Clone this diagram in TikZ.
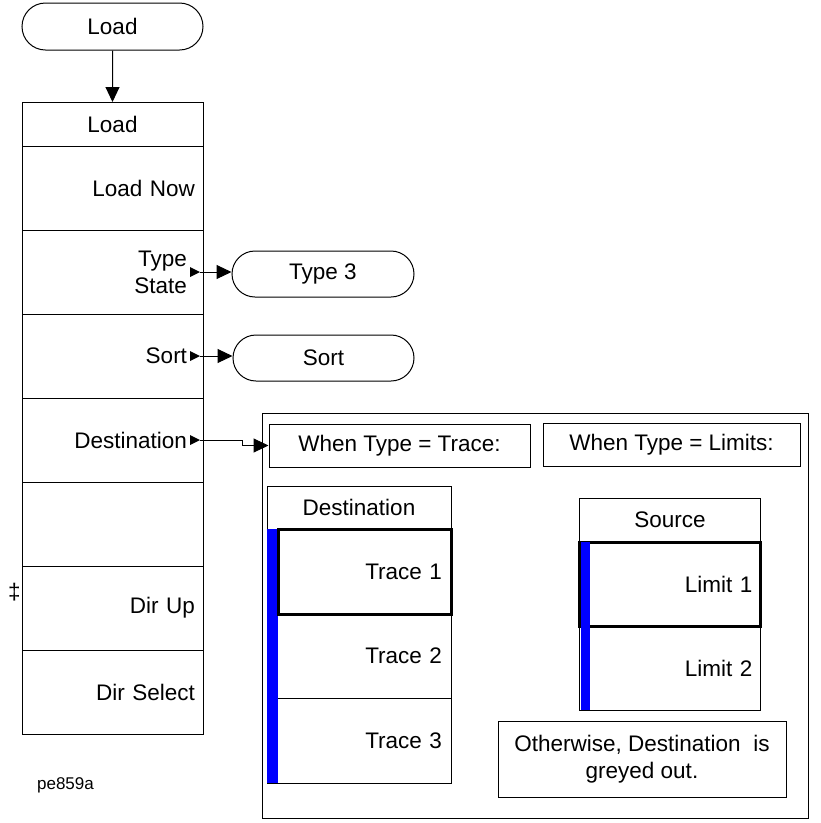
\documentclass[tikz,border=0pt]{standalone}
\usepackage{fontspec}
\setmainfont{Liberation Sans}
\usetikzlibrary{arrows.meta,positioning,shapes.misc}
\definecolor{KeyBlue}{HTML}{0000FF}

\begin{document}
\begin{tikzpicture}[x=1pt,y=-1pt,line width=1pt,
    font=\fontsize{22.5}{27}\selectfont,
    term/.style={draw,rounded rectangle,minimum width=181pt,minimum height=46pt,inner sep=0pt},
    hdr/.style={draw,minimum width=181pt,minimum height=44pt,inner sep=0pt,outer sep=0pt},
    key/.style={draw,minimum width=181pt,minimum height=84pt,inner sep=0pt,outer sep=0pt,text width=165pt,align=right},
    subkey/.style={key,text width=149pt},
    note/.style={draw,minimum height=43pt,inner sep=0pt,align=center},
    arr/.style={-{Triangle[length=15pt,width=14pt]}},
    sel/.style={line width=3pt}]
  \useasboundingbox (0,0) rectangle (821,823);
  % main menu
  \node[term,minimum height=47pt] (load) at (112.5,26.5) {Load};
  \node[hdr,anchor=north] (loadhdr) at (112.5,102) {Load};
  \node[key,below=0pt of loadhdr] (now) {Load Now};
  \node[subkey,below=0pt of now] (type) {Type\\State};
  \node[subkey,below=0pt of type] (sort) {Sort};
  \node[subkey,below=0pt of sort] (dest) {Destination};
  \node[key,below=0pt of dest] (blank) {};
  \node[key,below=0pt of blank] (dirup) {Dir Up};
  \node[key,below=0pt of dirup] (dirsel) {Dir Select};
  \node (dag) at (14.5,592) {‡};
  \node[font=\fontsize{17}{20}\selectfont] (fig) at (65.5,785) {pe859a};
  \foreach \k in {type,sort,dest}{
    \fill ([xshift=-13pt,yshift=5pt]\k.east) -- ++(10,5) -- ++(-10,5) -- cycle;
    \coordinate (\k m) at ([xshift=-3pt]\k.east);
  }
  % sub menus
  \node[term,minimum width=182pt] (type3) at (323,274) {Type 3};
  \node[term] (sortt) at (323.5,358) {Sort};
  \node[draw,minimum width=546pt,minimum height=405pt,inner sep=0pt] (cond) at (535,615.5) {};
  \node[note,minimum width=261pt] (whentrace) at (399.5,445.5) {When Type = Trace:};
  \node[note,minimum width=257pt] (whenlim) at (671.5,445) {When Type = Limits:};
  % destination keys
  \node[hdr,minimum width=184pt,minimum height=43pt,anchor=north] (desthdr) at (359,486) {Destination};
  \node[key,minimum width=184pt,minimum height=85pt,text width=166pt,below=0pt of desthdr] (tr1) {Trace 1};
  \node[key,minimum width=184pt,minimum height=84pt,text width=166pt,below=0pt of tr1] (tr2) {Trace 2};
  \node[key,minimum width=184pt,minimum height=85pt,text width=166pt,below=0pt of tr2] (tr3) {Trace 3};
  \fill[KeyBlue] (tr1.north west) rectangle ([xshift=11pt]tr3.south west);
  \draw[sel] ([xshift=11pt]tr1.north west) rectangle (tr1.south east);
  % source keys
  \node[hdr,anchor=north] (srchdr) at (670,498) {Source};
  \node[key,below=0pt of srchdr] (lim1) {Limit 1};
  \node[key,below=0pt of lim1] (lim2) {Limit 2};
  \draw[sel] (lim1.north west) rectangle (lim1.south east);
  \fill[KeyBlue] ([xshift=1pt]lim1.north west) rectangle ([xshift=10pt]lim2.south west);
  \node[draw,minimum width=288pt,minimum height=76pt,inner sep=0pt,align=center] (other) at (642,759) {Otherwise, Destination\ \ is\\greyed out.};
  % connectors
  \draw[arr] (load) -- (loadhdr);
  \draw[arr] (typem) -- (typem -| type3.west);
  \draw[arr] (sortm) -- (sortm -| sortt.west);
  \draw[arr] (destm) -- ++(42,0) |- (whentrace.west);
\end{tikzpicture}
\end{document}
